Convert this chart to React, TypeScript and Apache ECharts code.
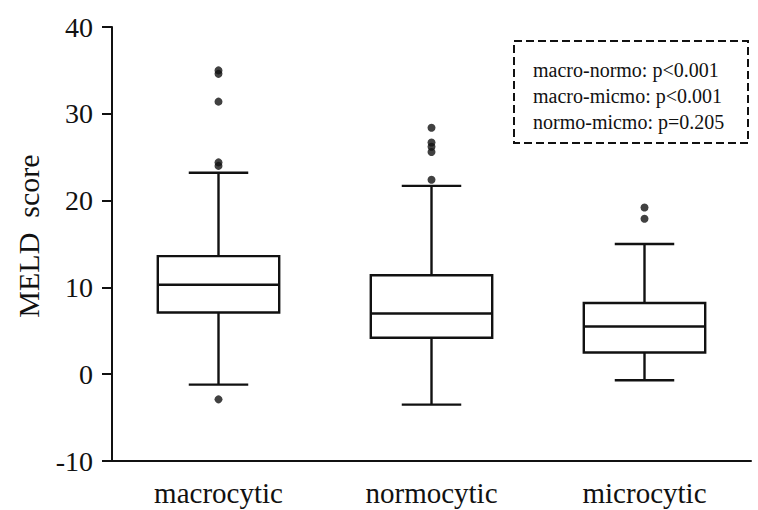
import React, { useEffect, useRef } from "react";
import * as echarts from "echarts";

const categories = ["macrocytic", "normocytic", "microcytic"];
// [lowerWhisker, Q1, median, Q3, upperWhisker]
const boxStats = [
  [-1.2, 7.1, 10.3, 13.6, 23.2],
  [-3.5, 4.2, 7.0, 11.4, 21.7],
  [-0.7, 2.5, 5.5, 8.2, 15.0],
];
const outliers: [number, number][] = [
  [0, 35.0], [0, 34.6], [0, 31.4], [0, 24.4], [0, 24.0], [0, -2.9],
  [1, 28.4], [1, 26.7], [1, 26.2], [1, 25.6], [1, 22.4],
  [2, 19.2], [2, 17.9],
];
const yTicks = { min: -10, max: 40, interval: 10 };
const pValues = ["macro-normo: p<0.001", "macro-micmo: p<0.001", "normo-micmo: p=0.205"];

const FONT = "'Liberation Serif', 'Times New Roman', serif";

export default function App() {
  const ref = useRef<HTMLDivElement>(null);
  useEffect(() => {
    document.body.style.margin = "0";
    if (!ref.current) return;
    const chart = echarts.init(ref.current, null, { renderer: "svg" });
    const boxData = boxStats.map((s, i) => [i, ...s]);
    chart.setOption({
      animation: false,
      grid: { left: 112, right: 7, top: 27, bottom: 49 },
      xAxis: {
        type: "category",
        data: categories,
        axisLine: { onZero: false, lineStyle: { color: "#111", width: 2 } },
        axisTick: { alignWithLabel: true, length: 8, lineStyle: { width: 2, color: "#111" } },
        axisLabel: { fontFamily: FONT, fontSize: 29, color: "#111", margin: 17 },
      },
      yAxis: {
        type: "value",
        min: yTicks.min,
        max: yTicks.max,
        interval: yTicks.interval,
        splitLine: { show: false },
        axisLine: { show: true, lineStyle: { color: "#111", width: 2 } },
        axisTick: { show: true, length: 10, lineStyle: { width: 2, color: "#111" } },
        axisLabel: { fontFamily: FONT, fontSize: 28, color: "#111", margin: 19 },
      },
      graphic: [
        {
          type: "text",
          x: 28,
          y: 236,
          rotation: Math.PI / 2,
          style: {
            text: "MELD  score",
            fontFamily: FONT,
            fontSize: 30,
            fill: "#111",
            align: "center",
            verticalAlign: "middle",
          },
        },
        {
          type: "rect",
          shape: { x: 514, y: 41, width: 234, height: 102 },
          style: { fill: "#fff", stroke: "#111", lineWidth: 2, lineDash: [8, 4] },
        },
        ...pValues.map((t, i) => ({
          type: "text",
          x: 533,
          y: 70 + i * 26,
          style: {
            text: t,
            fontFamily: FONT,
            fontSize: 20,
            fill: "#111",
            verticalAlign: "middle",
          },
        })),
      ],
      series: [
        {
          type: "custom",
          data: boxData,
          encode: { x: 0, y: [1, 2, 3, 4, 5] },
          renderItem: (params: any, api: any) => {
            const idx = api.value(0);
            const band = api.size([1, 0])[0];
            const bw = band * 0.57;
            const cw = bw * 0.49;
            const pLow = api.coord([idx, api.value(1)]);
            const pQ1 = api.coord([idx, api.value(2)]);
            const pMed = api.coord([idx, api.value(3)]);
            const pQ3 = api.coord([idx, api.value(4)]);
            const pHigh = api.coord([idx, api.value(5)]);
            const cx = pMed[0];
            const ls = { stroke: "#111", lineWidth: 2.4, fill: "none" };
            return {
              type: "group",
              children: [
                { type: "line", shape: { x1: cx, y1: pQ3[1], x2: cx, y2: pHigh[1] }, style: ls },
                { type: "line", shape: { x1: cx, y1: pQ1[1], x2: cx, y2: pLow[1] }, style: ls },
                { type: "line", shape: { x1: cx - cw / 2, y1: pHigh[1], x2: cx + cw / 2, y2: pHigh[1] }, style: ls },
                { type: "line", shape: { x1: cx - cw / 2, y1: pLow[1], x2: cx + cw / 2, y2: pLow[1] }, style: ls },
                {
                  type: "rect",
                  shape: { x: cx - bw / 2, y: pQ3[1], width: bw, height: pQ1[1] - pQ3[1] },
                  style: { stroke: "#111", lineWidth: 2.4, fill: "#fff" },
                },
                { type: "line", shape: { x1: cx - bw / 2, y1: pMed[1], x2: cx + bw / 2, y2: pMed[1] }, style: ls },
              ],
            };
          },
        },
        {
          type: "scatter",
          data: outliers,
          symbol: "circle",
          symbolSize: 8,
          itemStyle: { color: "#111" },
        },
      ],
    });
    return () => chart.dispose();
  }, []);
  return <div ref={ref} style={{ width: 758, height: 510 }} />;
}
